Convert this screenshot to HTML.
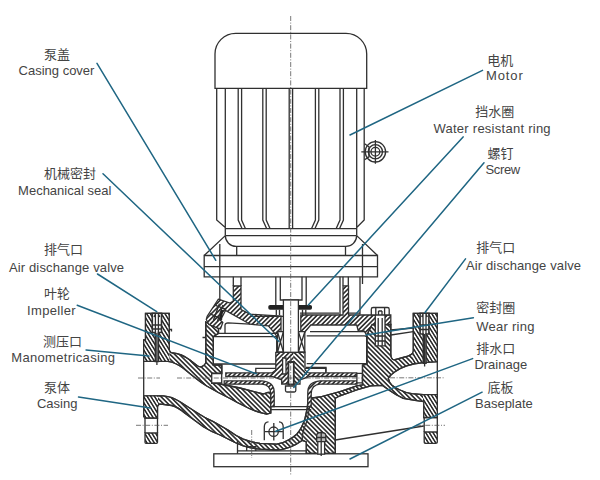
<!DOCTYPE html>
<html><head><meta charset="utf-8"><title>Pump</title>
<style>
html,body{margin:0;padding:0;background:#fff;}
body{width:600px;height:480px;overflow:hidden;}
svg{display:block;}
text{font-family:"Liberation Sans","Noto Sans CJK SC",sans-serif;font-size:13px;fill:#444;}
.cj{font-size:13px;}
.ld{stroke:#1f6683;stroke-width:1.5;fill:none;stroke-linecap:round;}
.k{stroke:#303030;stroke-width:1.3;fill:none;}
.kw{stroke:#303030;stroke-width:1.3;fill:#fff;}
.h1{stroke:#303030;stroke-width:1.3;fill:url(#hA);}
.h2{stroke:#303030;stroke-width:1.3;fill:url(#hB);}
.cl{stroke:#555;stroke-width:0.8;fill:none;stroke-dasharray:5 1.6 1 1.6;}
</style></head><body>
<svg width="600" height="480" viewBox="0 0 600 480">
<defs>
<pattern id="hA" width="3.3" height="3.3" patternUnits="userSpaceOnUse" patternTransform="rotate(45)"><rect width="3.3" height="3.3" fill="#fff"/><line x1="1.65" y1="-1" x2="1.65" y2="5" stroke="#242424" stroke-width="1.55"/></pattern>
<pattern id="hB" width="3.3" height="3.3" patternUnits="userSpaceOnUse" patternTransform="rotate(-45)"><rect width="3.3" height="3.3" fill="#fff"/><line x1="1.65" y1="-1" x2="1.65" y2="5" stroke="#242424" stroke-width="1.55"/></pattern>
<path id="p2" d="M143.7 395.8H163.3Q172 396.5 180 401.7L196.7 412.5Q205 418 213.3 421.7L228 430Q236 436 243.3 439.2Q252 442.5 260 443.3L276.7 444.2Q283 443.3 288.3 440Q293 437.5 296.7 434.2Q300 430.5 301.7 426.7Q304 422 305 418.3L307.3 408L308.3 396L312.2 398L321.7 396.7L340 391.7L356.7 385.8L362.5 385V365L366.7 364.2V335L372 324.5H390.8V354Q391 360.5 395 359.7L406.7 356.5Q413.3 354.5 413.3 351V313.3H437.3V361.7L423.3 362.5Q414 363.5 406.7 365.8Q400 368 395 371.7Q390 375 388.3 378.3Q389 382 391.7 385Q395 388 400 390Q405 392.5 411.7 393.7L423.3 394.7H437.3V417.5H423.8V401.7L415 400.3L403.3 398.3Q396 395.2 390 390.8L382.5 385.4L370.8 385.8L356.7 390L340 395.8L335.3 398.3V453.3H306.3V442L302.5 440.3Q296 445 290 447.2Q283 450 276.7 450L260 449.2Q252 448.5 243.3 445.8Q235 443 228 439L220 435Q211 431.5 203.3 426.7L185 413.3Q178 407 171.7 405.5L160.8 404.2Q157.5 404.5 157.5 406.7V418H145V416.7H143.7Z"/>
<clipPath id="cp2"><use href="#p2"/></clipPath>
<path id="p1" d="M145.5 313.3H169.2V349Q169.5 353 173 353Q181 353.5 190 360L197 365.5Q202 369 205.8 363V322L218.5 328.5V333.3L213.3 336.7V365H221.7V373.5H211.7V383H215L240 388L263 394L268 392.5H270.8V413L266.7 414.2Q254 411.5 243.3 405.5Q236 402 230 398.5L218.3 392.5L206.7 386Q201 382.5 195 377.7L183.3 368.3Q176 362.5 168 361.3H143.7V340H145.5Z"/>
<clipPath id="cp1"><use href="#p1"/></clipPath>
<pattern id="hC" width="3.1" height="3.1" patternUnits="userSpaceOnUse" patternTransform="rotate(-32)"><rect width="3.1" height="3.1" fill="#fff"/><line x1="1.55" y1="-1" x2="1.55" y2="5" stroke="#242424" stroke-width="1.5"/></pattern>
</defs>
<rect width="600" height="480" fill="#fff"/>
<!--MOTOR-->
<g id="motor">
<path class="kw" d="M215 88.3V54a20.7 20.7 0 0 1 20.7-20.7H346a20.7 20.7 0 0 1 20.7 20.7V88.3Z"/>
<path class="k" d="M216.7 88.3V220L225.3 227.5V235.6M225.3 88.3V227.5M364.2 88.3V220L356.7 227.5V235.6M356.7 88.3V227.5"/>
<path class="k" d="M238.2 88.3V220l3.8 8.5M241.6 88.3V220l3.8 8.5M262.8 88.3V220l3.8 8.5M266.2 88.3V220l3.8 8.5M289.2 88.3V228.5M292.6 88.3V228.5M315.4 88.3V220l-3.8 8.5M318.8 88.3V220l-3.8 8.5M340 88.3V220l-3.8 8.5M343.4 88.3V220l-3.8 8.5"/>
<path class="k" d="M225.3 228.6H356.7M225.3 235.6H356.7M225.3 235.6L204.2 255.5M356.7 235.6L377.5 255.5M225.3 235.6a10.8 10.8 0 0 0 10.8 10.8H345.6a10.8 10.8 0 0 0 11.1-10.8M236.7 246.4v9.1M345.5 246.4v9.1"/>
<path class="k" d="M204.2 255.5H377.5V276.8H204.2ZM204.2 266.7H377.5M219.8 244V300M362.5 244V284"/>
<circle class="k" cx="375.4" cy="151.8" r="10.2"/><circle class="k" cx="375.4" cy="151.8" r="7.1"/><circle class="k" cx="375.4" cy="151.8" r="4.4"/><path class="k" d="M361.3 151.8H388.5M375.4 140V163.8M364.6 143.8L369 146.8V156.8L364.6 159.8"/>
</g>
<!--PUMP-->
<g id="pump">

<!-- baseplate -->
<rect class="kw" x="213.8" y="453.8" width="154.2" height="12.9"/>
<!-- P2: lower-left flange, lower pipe wall, bottom, pedestal, right body, right flange -->
<use href="#p2" class="h2"/>
<path class="k" d="M302.5 440.3Q301.5 437 304.2 428.3Q306.5 423 307.5 418.3L309.4 408L310.3 397"/>
<path clip-path="url(#cp2)" fill="url(#hC)" d="M142 395H158V419H142ZM412.5 312H438V363H412.5ZM423 394H438V418.5H423Z"/>
<use href="#p2" class="k"/>
<path class="h2" style="fill:url(#hC)" d="M145 433H157.5V442.3Q157.5 443.3 156.5 443.3H146Q145 443.3 145 442.3Z"/>
<path class="h2" style="fill:url(#hC)" d="M424.2 432H437.3V442.3Q437.3 443.3 435.7 443.3H425.2Q424.2 443.3 424.2 442.3Z"/>
<path class="k" d="M145 418V433M157.5 418V433M424.2 417.5V432M437.3 417.5V432M143.7 361.3V395.8M437.3 361.7V394.7"/>
<!-- P1: upper-left flange, pipe upper wall, volute wall, central wall -->
<use href="#p1" class="h2"/>
<rect clip-path="url(#cp1)" x="142" y="312" width="27.4" height="50" fill="url(#hC)"/>
<use href="#p1" class="k"/>
<!-- air valve holes -->
<path class="kw" style="stroke-width:1.6" d="M152.3 313.3H161.5V332.5H158.4V361.5H155.4V332.5H152.3Z"/>
<path class="k" style="stroke-width:1.3" d="M152.3 325H161.5M152.3 329H161.5M155.4 313.3V332.5M158.4 313.3V332.5M156.9 333V365M154 317L155.4 314M159.8 317L158.4 314M169.2 329.5H171.5V331.5"/>
<path class="kw" style="stroke-width:1.6" d="M420.1 313.3H428.9V334H426V363.3H423.3V334H420.1Z"/>
<path class="k" style="stroke-width:1.3" d="M420.1 325H428.9M420.1 329.5H428.9M423 313.3V334M426 313.3V334M424.6 334V366.5M421.6 317L423 314M427.4 317L426 314"/>
<!-- ribs -->
<path class="k" d="M390.8 330L413.3 328M390.8 335L413.3 331.7M335.3 440L423.8 426"/>
<!-- casing cover -->
<path class="h1" d="M218.3 299.2L230 303L233.3 301V286H241V309.5L250 314.2L281 316V339L278.3 338.3L273.3 331.7L268.3 325.8L250 324.2L225.5 310.5L220.5 320.3L222.8 322.5L220.5 329L208.8 324.5L206.3 319.5L207.2 316.2Z"/>
<path class="k" d="M233.3 276.8V286M241 276.8V286M250 316.3H283M202.5 337.5H206"/>
<path class="h1" d="M300.8 315H343V285.8H348.5V315H390.8V324.5H372L366.7 335L364 331H358.3L356.7 325H310.8L305 331.7L302.5 337L300.8 331.7Z"/>
<path class="k" d="M340 276.8V315M343 276.8V285.8M348.3 276.8V285.8M360 276.8V314.5M300 313.2H339M348.5 313.2H360"/>
<path class="k" style="stroke-width:1.4" d="M215.5 305.3L226.3 309.5M209.7 313.7L222.2 319.5M219.5 303.5L213.5 320M223 305L217.5 321"/><path d="M222.3 310L220.3 319.5" stroke="#222" stroke-width="2.4" fill="none"/>
<!-- bolt right -->
<path class="kw" d="M371.3 315V309.3Q371.3 307.5 373.1 307.5H387.4Q389.2 307.5 389.2 309.3V315ZM375.3 315H385V345.8H375.3Z"/>
<path class="k" d="M375.8 307.5V315M384.6 307.5V315M378.2 318V345.8M382.2 318V345.8M375.3 336H385M375.3 341H385M378.5 311H382M378.5 311V315M382 311V315"/>
<!-- pedestal bolt -->
<path class="kw" style="fill:#bbb" d="M316.7 441.7V435.5Q316.7 432.5 321.2 432.5Q325.8 432.5 325.8 435.5V441.7Z"/><path class="kw" d="M317.8 441.7H324.6V454.2H317.8Z"/>
<path class="k" d="M321.2 433V456M316.7 437.5H325.8"/>
<!-- chambers -->
<path class="k" d="M219 333.3H277M213.3 336.7H276.7V364H213.3M221.7 365V372.9M310 331.7H364.5M306.7 335.8H364.5Q367 335.8 367 338.3V363.7H306.7M306 367.5H326V371.7"/>
<path class="k" d="M225 333V325Q225.3 322.8 228 322.8L250 324.2"/>
<!-- impeller -->
<path class="h1" d="M275.8 352.3H305V370L308 372.9H356.7V376.5H310L300 379.8V384H281.7V379.8L272 376.5H225.8V372.9H272L275.8 370Z"/>
<path fill="url(#hB)" d="M293.6 353H304.3V370.3L307.6 373.6H309L299.4 379.3V383.3H293.6Z"/>
<path class="h1" d="M224.2 380.9H262Q274.2 381.9 274.2 392.5V406.7H270.8V393.5Q270.5 384.9 262 384.2H224.2Z"/>
<path class="h1" d="M357 380.9H320Q307.8 381.9 307.8 392.5V406.7H311.2V393.5Q311.5 384.9 320 384.2H357Z"/>
<path class="kw" d="M211.7 373.5H221.7V383H211.7ZM356.9 373.3H362.3V382.8H356.9Z"/>
<path class="kw" d="M282.6 358H286V374H282.6ZM285.5 386H295.8V390.5Q295.8 392 294.3 392H287Q285.5 392 285.5 390.5Z"/><path class="kw" style="stroke-width:1.8" d="M288.4 362H293.8V384.5H288.4Z"/>
<path class="k" d="M270.8 406.7H311.2M270.8 409.7H311.2M255.8 372.9V368.3H275.8M305 368.3H325.8V372.9"/>
<!-- mech seal -->
<path class="kw" d="M277.5 331.7H304.8V352H277.5Z"/>
<path class="k" d="M277.5 331.7L283.4 352M283.4 331.7L277.5 352M298.4 331.7L304.8 352M304.8 331.7L298.4 352M302.5 309.7V315M305.8 309.7V315M279.5 309.7V315M276.3 309.7V315"/>
<!-- water ring + shaft -->
<rect x="268.3" y="305" width="43.7" height="4.7" rx="1.8" fill="#222"/>
<path class="k" d="M275.8 276.8V305M306.2 276.8V305M280.3 276.8V300H302V276.8"/>
<rect class="kw" x="283.4" y="300" width="15" height="52.3"/>
<!-- drain plug -->
<circle class="k" cx="273.6" cy="431.7" r="4.7"/>
<path class="k" d="M265 431.7H282.5M273.8 423V440.5M268.5 421.8Q264.3 422 264.3 427V440.3M279 421.8Q283.2 422 283.2 427V439"/>
<!-- feet -->
<path class="k" d="M237.5 441V453.8M237.5 450.8H306.7M246.7 450.8V446.7H255.8V450.8"/>

</g>
<!--CENTERLINES-->
<path class="cl" d="M290.7 16V475M138 378H160M177 378H362M390 377.8H445M136 425.3H168M416 425.3H445M251.7 430V458"/>
<!--LEADERS-->
<g id="leaders">
<path class="ld" d="M97 63.3L215.8 260.3M103 173.8L279 341.5M97.5 274L156.7 311.7M77.2 305.2L256.3 373.8M86.1 349.9L149 356.1M78.5 397L150.5 408"/>
<path class="ld" d="M482.5 70.3L350 135M463.1 136.9L308.3 305M484 162.8L293.8 387.5M465.5 258.9L425 312.5M473.4 317.8L365.8 335M472.6 358.6L275.8 431.3M482.1 392.2L350 459"/>
</g>
<!--LABELS-->
<g id="labels">
<text class="cj" x="57" y="59" text-anchor="middle">泵盖</text><text x="56.5" y="75" text-anchor="middle">Casing cover</text>
<text class="cj" x="70" y="177.8" text-anchor="middle">机械密封</text><text x="64.7" y="194.7" text-anchor="middle">Mechanical seal</text>
<text class="cj" x="63.4" y="254.4" text-anchor="middle">排气口</text><text x="9" y="271.9" textLength="115">Air dischange valve</text>
<text class="cj" x="57" y="298.3" text-anchor="middle">叶轮</text><text x="27" y="314.7" textLength="48.6">Impeller</text>
<text class="cj" x="62.5" y="346" text-anchor="middle">测压口</text><text x="11.2" y="361.8" textLength="103.8">Manometricasing</text>
<text class="cj" x="57" y="392" text-anchor="middle">泵体</text><text x="57.2" y="407.8" text-anchor="middle">Casing</text>
<text class="cj" x="500.2" y="65.4" text-anchor="middle">电机</text><text x="486" y="80" textLength="36.8">Motor</text>
<text class="cj" x="494.7" y="116" text-anchor="middle">挡水圈</text><text x="433.4" y="133.1" textLength="117.2">Water resistant ring</text>
<text class="cj" x="500.4" y="158.2" text-anchor="middle">螺钉</text><text x="485.4" y="173.8" textLength="34.8">Screw</text>
<text class="cj" x="495.8" y="251.8" text-anchor="middle">排气口</text><text x="466" y="269.6" textLength="115">Air dischange valve</text>
<text class="cj" x="495.8" y="311.9" text-anchor="middle">密封圈</text><text x="476.2" y="330.9" textLength="58.3">Wear ring</text>
<text class="cj" x="495.8" y="352.6" text-anchor="middle">排水口</text><text x="474.4" y="369.2">Drainage</text>
<text class="cj" x="500.5" y="392.2" text-anchor="middle">底板</text><text x="475" y="408">Baseplate</text>
</g>
</svg>
</body></html>
